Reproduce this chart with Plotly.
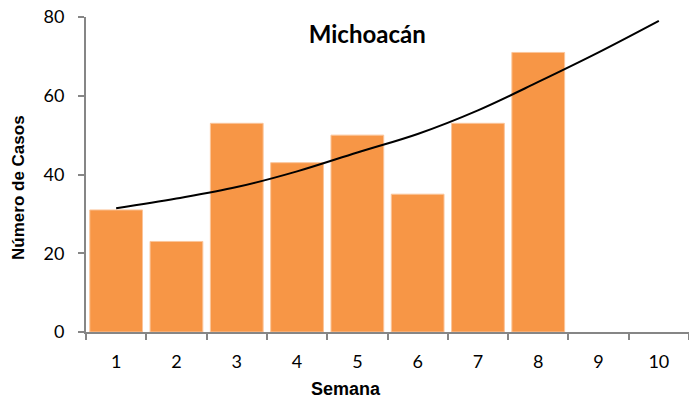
import plotly.graph_objects as go

semanas = ["1", "2", "3", "4", "5", "6", "7", "8", "9", "10"]
casos_semanas = ["1", "2", "3", "4", "5", "6", "7", "8"]
casos = [31, 23, 53, 43, 50, 35, 53, 71]
tendencia = [31.4, 33.9, 36.8, 40.8, 45.6, 50.3, 56.3, 63.5, 71.0, 79.0]

calib = "Lato, Open Sans, sans-serif"
arialb = "Liberation Sans, Arial, sans-serif"
grey = "#868686"

fig = go.Figure()
fig.add_trace(go.Bar(
    x=casos_semanas, y=casos,
    marker=dict(color="#F79646", line=dict(color="#FBC59A", width=1)),
    showlegend=False,
))
fig.add_trace(go.Scatter(
    x=semanas, y=tendencia, mode="lines",
    line=dict(color="black", width=2, shape="spline"),
    showlegend=False,
))

fig.update_layout(
    width=689, height=403,
    margin=dict(l=86, r=0, t=17, b=71, autoexpand=False),
    paper_bgcolor="white", plot_bgcolor="white",
    bargap=0.125,
    title=dict(text="<b>Michoacán</b>", x=0.533, xanchor="center", xref="container",
               y=0.913, yanchor="middle", yref="container",
               font=dict(family=calib, size=24, color="black")),
    xaxis=dict(
        type="category", categoryorder="array", categoryarray=semanas,
        range=[-0.5, 9.5], tickson="boundaries",
        showline=True, linecolor=grey, linewidth=2,
        ticks="outside", ticklen=6, tickcolor=grey, tickwidth=2,
        tickfont=dict(family=calib, size=18, color="black"),
        ticklabelstandoff=12, ticklabeloverflow="allow",
        showgrid=False, zeroline=False, automargin=False,
    ),
    yaxis=dict(
        range=[0, 80], tickvals=[0, 20, 40, 60, 80],
        showline=True, linecolor=grey, linewidth=2,
        ticks="outside", ticklen=6, tickcolor=grey, tickwidth=2,
        tickfont=dict(family=calib, size=18, color="black"),
        ticklabelstandoff=10, ticklabeloverflow="allow",
        showgrid=False, zeroline=False, automargin=False,
    ),
    annotations=[
        dict(text="<b>Semana</b>", xref="paper", yref="paper", x=0.431, y=-0.18,
             xanchor="center", yanchor="middle", showarrow=False,
             font=dict(family=arialb, size=18, color="black")),
        dict(text="<b>Número de Casos</b>", xref="paper", yref="paper", x=-0.113, y=0.46,
             xanchor="center", yanchor="middle", showarrow=False, textangle=-90,
             font=dict(family=arialb, size=17, color="black")),
    ],
)

fig.write_html("out.html", config={"displayModeBar": False},
               post_script="document.body.style.margin='0px';")
